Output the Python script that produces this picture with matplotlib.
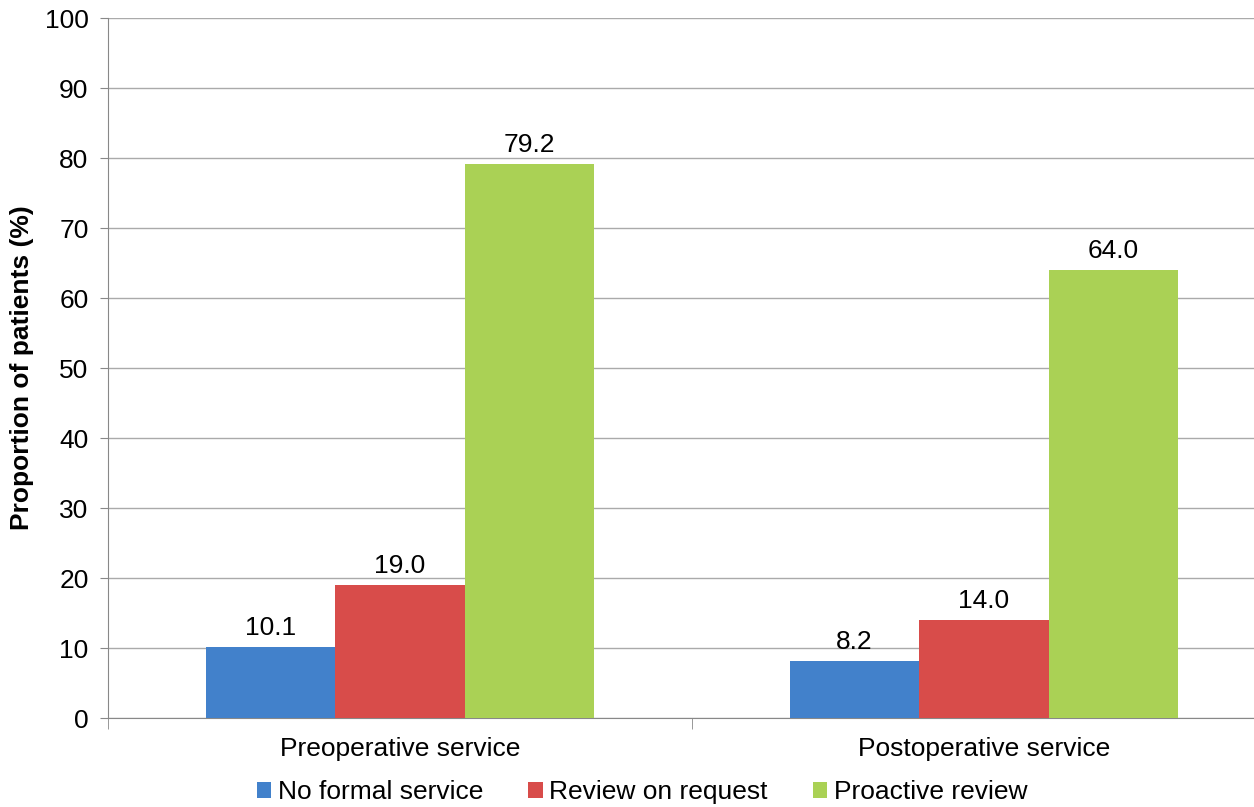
import matplotlib.pyplot as plt
import numpy as np

plt.rcParams['font.family'] = ['Liberation Sans', 'DejaVu Sans']

categories = ['Preoperative service', 'Postoperative service']
series = ['No formal service', 'Review on request', 'Proactive review']
no_formal = [10.1, 8.2]
on_request = [19.0, 14.0]
proactive = [79.2, 64.0]
colors = ['#4281CB', '#D84C4A', '#AAD155']

fs = 19
fig = plt.figure(figsize=(12.54, 8.07), dpi=100)
ax = fig.add_axes([108 / 1254, 1 - 718 / 807, 1168 / 1254, 700 / 807])

x = np.arange(len(categories))
w = 0.222
for i, (vals, name) in enumerate(zip([no_formal, on_request, proactive], series)):
    bars = ax.bar(x + (i - 1) * w, vals, width=w, color=colors[i], label=name, zorder=3)
    for b, v in zip(bars, vals):
        ax.text(b.get_x() + b.get_width() / 2, v + 1.0, f'{v:.1f}',
                ha='center', va='bottom', fontsize=fs)

ax.set_xlim(-0.5, 1.5)
ax.set_ylim(0, 100)
ax.set_yticks(range(0, 101, 10))
ax.tick_params(axis='y', labelsize=fs, length=6, color='#888888', pad=8)
ax.set_xticks(x)
ax.set_xticklabels(categories, fontsize=fs)
ax.tick_params(axis='x', length=0, pad=14)
ax.set_xticks([-0.5, 0.5], minor=True)
ax.tick_params(axis='x', which='minor', length=8, color='#888888')
ax.grid(axis='y', color='#AAAAAA', linewidth=1, zorder=0)
ax.set_ylabel('Proportion of patients (%)', fontsize=fs, fontweight='bold', labelpad=8)
for s in ['top', 'right']:
    ax.spines[s].set_visible(False)
for s in ['left', 'bottom']:
    ax.spines[s].set_color('#888888')

handles, labels = ax.get_legend_handles_labels()
fig.legend(handles, labels, loc='center', bbox_to_anchor=(642 / 1254, 1 - 792 / 807),
           ncol=3, frameon=False, fontsize=fs, handlelength=0.55, handleheight=0.55,
           handletextpad=0.25, columnspacing=1.7, borderpad=0)

fig.savefig('out.png', dpi=100)
